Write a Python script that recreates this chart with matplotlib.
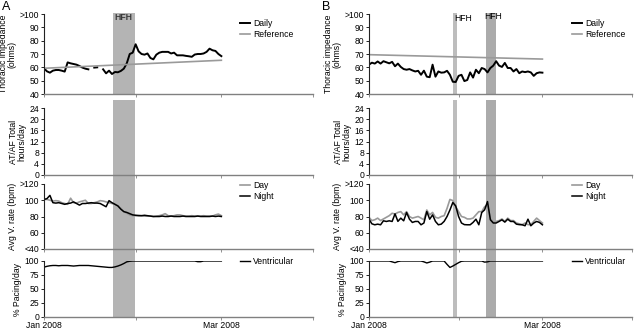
import numpy as np
import matplotlib
matplotlib.use("Agg")
import matplotlib.pyplot as plt
from matplotlib.patches import Rectangle
from matplotlib.transforms import blended_transform_factory

plt.rcParams['font.family'] = ['Liberation Sans', 'DejaVu Sans']
FS = 6.2

# ---------------- data ----------------
days = np.arange(61)

# Panel A
imp_daily_A = [59.3, 57, 56, 57.5, 58, 58, 57.5, 56.8, 63.7, 63, 62.5, 62, 61, 59.8, 59, 58.5,
               np.nan, 59.8, 60, np.nan, 58.5, 55.5, 57.5, 55, 56.5, 56.3, 57.3, 59, 63, 70, 71,
               77.3, 72, 70, 69.5, 70.4, 67, 66, 69.5, 71, 71.6, 71.6, 71.6, 70.4, 71, 69, 69, 69,
               68.6, 68.3, 67.9, 69.6, 70, 70, 70.4, 71.6, 74, 72.8, 72.3, 70, 68.4]
imp_ref_A = [59.3, 65.3]
ref_days = [0, 60]

vrate_night_A = [101, 102, 106, 97, 96.5, 97, 96, 95, 96, 96.5, 98, 96, 94, 96, 96, 96.5, 97,
                 96.5, 96.5, 96, 94, 92, 99.5, 97, 95, 93, 89, 86, 85, 83.5, 82, 81.5, 81, 81,
                 81.5, 81, 80.5, 80, 80, 80, 80.5, 80, 80, 80.5, 80, 80, 80, 80.5, 80, 80, 80,
                 80, 80.5, 80, 80, 80, 80, 80.5, 80, 80.5, 80]
vrate_day_A = [101, 101, 100, 99, 99.5, 99, 97, 96, 95, 102.5, 97, 96.5, 98, 99, 100, 96, 96,
               97, 98, 99.5, 99, 98, 97, 96, 95, 93, 90, 86, 84, 82, 81, 81, 81.5, 81, 80.5,
               80.5, 80.5, 80, 80.5, 81, 82, 83.5, 81, 80.5, 81, 82, 82, 81, 80.5, 80.5, 81,
               80.5, 80.5, 80.5, 81, 80.5, 80.5, 80.5, 82, 83, 81]
pacing_A = [89, 90.5, 91.5, 92, 92, 91.5, 92, 92, 92, 91.5, 91, 91.5, 92, 92, 92, 92, 91.5, 91,
            90.5, 90, 89.5, 89, 88.5, 88.5, 89.5, 91, 93, 95.5, 98.5, 99.5, 100, 100, 100, 100,
            100, 100, 100, 100, 100, 100, 100, 100, 100, 100, 100, 100, 100, 100, 100, 100, 100,
            100, 98.8, 98.8, 100, 100, 100, 100, 100, 100, 100]
hfh_A = [(23.2, 30.7)]

# Panel B
imp_daily_B = [62, 63.5, 62.8, 64.4, 62.8, 64.6, 63.8, 63, 64.1, 60.8, 62.8, 60.3, 58.7, 58.2,
               58.7, 57.7, 56.9, 57.4, 54.4, 57.5, 53, 52.6, 62, 53, 56.9, 56, 56.2, 57.4, 54.4,
               49.2, 49, 53.6, 54.4, 49.7, 50.5, 56.2, 52.3, 58.2, 55.6, 59.5, 58.7, 56.2, 59.5,
               61.3, 64.6, 61.3, 60.3, 63.3, 59.5, 59.5, 56.9, 58.7, 55.6, 56.9, 56.4, 56.9,
               56.2, 53.6, 55.6, 56.2, 56]
imp_ref_B = [69.5, 66.2]

vrate_night_B = [76.7, 71, 69.8, 70.6, 69.8, 74.7, 73.9, 74.7, 73.9, 83.3, 74, 78, 74.7, 84.9,
                 76.7, 72.7, 73.9, 73.9, 69.8, 72, 86.1, 76.7, 82, 73.9, 69.8, 70.6, 74, 80, 88,
                 97.2, 93, 80, 72, 70, 69.8, 69.8, 72.7, 76.7, 69.8, 84.9, 88.2, 98.4, 76, 72,
                 72, 73.9, 75.9, 73.1, 76.7, 73.9, 73.9, 70.6, 70, 69.8, 68.6, 76.7, 68.6, 71.9,
                 73.9, 72.7, 69.8]
vrate_day_B = [79, 75, 76, 78, 75, 77, 79, 81, 84, 83, 85, 86, 82, 86, 80, 78, 79, 80, 78, 76,
               88, 82, 85, 79, 78, 80, 81, 90, 101, 99.6, 92, 86, 80, 79, 77, 77, 78, 82, 86,
               86, 92, 94, 77, 73, 74, 75, 77, 74, 78, 75, 75, 72, 71, 70, 72, 70, 70, 74, 78,
               75, 72]
pacing_B = [100, 100, 100, 100, 100, 100, 100, 100, 98.5, 97, 99, 100, 100, 100, 100, 100, 100,
            100, 100, 98.5, 96.5, 98, 100, 100, 100, 100, 100, 94, 88.5, 91, 94, 97, 99.5, 100,
            100, 100, 100, 100, 100, 100, 98, 98.5, 100, 100, 100, 100, 100, 100, 100, 100, 100,
            100, 100, 100, 100, 100, 100, 100, 100, 100, 100]
hfh_B = [(29.2, 30.6), (40.6, 43.9)]

x_ticks = [0, 31, 60, 91]
x_ticklabels = ['Jan 2008', '', 'Mar 2008', '']

# ---------------- layout ----------------
W, H = 640, 331
fig = plt.figure(figsize=(W / 100, H / 100), dpi=100)

rows_px = [(14, 94), (108, 175), (184, 249), (261, 317)]
cols_px = [(44, 313), (369, 632)]

GRAY = '#9a9a9a'
AXGRAY = '#808080'


def make_ax(col, row):
    x0, x1 = cols_px[col]
    yt, yb = rows_px[row]
    ax = fig.add_axes([x0 / W, 1 - yb / H, (x1 - x0) / W, (yb - yt) / H])
    ax.patch.set_visible(False)
    for s in ['top', 'right']:
        ax.spines[s].set_visible(False)
    ax.spines['left'].set_color('#222222')
    ax.spines['left'].set_linewidth(0.8)
    ax.spines['bottom'].set_color(AXGRAY)
    ax.spines['bottom'].set_linewidth(1.0)
    ax.set_xlim(0, 91)
    ax.set_xticks(x_ticks)
    if row == 3:
        ax.set_xticklabels(x_ticklabels)
    else:
        ax.set_xticklabels([])
    ax.tick_params(axis='x', length=2, width=0.6, color=AXGRAY, labelsize=FS, pad=1.2)
    ax.tick_params(axis='y', length=2.5, width=0.6, labelsize=FS, pad=1)
    return ax


def leg(ax, x, y):
    lg = ax.legend(loc='upper left', bbox_to_anchor=(x, y), frameon=False, fontsize=FS,
                   handlelength=1.2, handletextpad=0.35, labelspacing=0.3,
                   borderpad=0, borderaxespad=0)
    return lg


panels = [
    dict(imp=imp_daily_A, ref=imp_ref_A, night=vrate_night_A, day=vrate_day_A,
         pac=pacing_A, hfh=hfh_A, letter='A'),
    dict(imp=imp_daily_B, ref=imp_ref_B, night=vrate_night_B, day=vrate_day_B,
         pac=pacing_B, hfh=hfh_B, letter='B'),
]

for c, p in enumerate(panels):
    axs = [make_ax(c, r) for r in range(4)]
    a0, a1, a2, a3 = axs

    # HFH bands (figure-level, behind axes)
    tr = blended_transform_factory(a0.transData, fig.transFigure)
    band_colors = ['#b4b4b4'] if c == 0 else ['#bdbdbd', '#ababab']
    for i, (s, e) in enumerate(p['hfh']):
        col = band_colors[i % len(band_colors)]
        for (yt, yb) in [(13, 95), (100, 317)]:
            r = Rectangle((s, 1 - yb / H), e - s, (yb - yt) / H, transform=tr,
                          facecolor=col, edgecolor='none', zorder=-1)
            fig.add_artist(r)

    # Thoracic impedance
    a0.plot(days, p['imp'], color='black', lw=1.4, label='Daily')
    a0.plot(ref_days, p['ref'], color=GRAY, lw=1.2, label='Reference')
    a0.set_ylim(40, 100)
    a0.set_yticks([40, 50, 60, 70, 80, 90, 100])
    a0.set_yticklabels(['40', '50', '60', '70', '80', '90', '>100'])
    a0.set_ylabel('Thoracic impedance\n(ohms)', fontsize=FS, labelpad=2, linespacing=1.0)
    leg(a0, 0.729 if c == 0 else 0.772, 0.94)

    # AT/AF
    a1.set_ylim(0, 24)
    a1.set_yticks([0, 4, 8, 12, 16, 20, 24])
    a1.set_ylabel('AT/AF Total\nhours/day', fontsize=FS, labelpad=2, linespacing=1.0)

    # Avg V rate
    a2.plot(days, p['day'], color=GRAY, lw=1.2, label='Day')
    a2.plot(days, p['night'], color='black', lw=1.1, label='Night')
    a2.set_ylim(40, 120)
    a2.set_yticks([40, 60, 80, 100, 120])
    a2.set_yticklabels(['<40', '60', '80', '100', '>120'])
    a2.set_ylabel('Avg V. rate (bpm)', fontsize=FS, labelpad=2)
    leg(a2, 0.729 if c == 0 else 0.772, 1.05)

    # Pacing
    a3.plot(days, p['pac'], color='black', lw=1.0, label='Ventricular')
    a3.set_ylim(0, 100)
    a3.set_yticks([0, 25, 50, 75, 100])
    a3.set_ylabel('% Pacing/day', fontsize=FS, labelpad=2)
    leg(a3, 0.729 if c == 0 else 0.772, 1.08)

    # HFH labels
    if c == 0:
        s, e = p['hfh'][0]
        a0.text((s + e) / 2, 97.5, 'HFH', ha='center', va='center', fontsize=FS,
                fontweight='bold', color='#3a3a3a')
    else:
        a0.text(32.5, 96.3, 'HFH', ha='center', va='center', fontsize=FS)
        a0.text(43.0, 97.8, 'HFH', ha='center', va='center', fontsize=FS)

    fig.text((2 if c == 0 else 322) / W, 1 - 1 / H, p['letter'], ha='left', va='top',
             fontsize=9)

fig.savefig('out.png', dpi=100)
